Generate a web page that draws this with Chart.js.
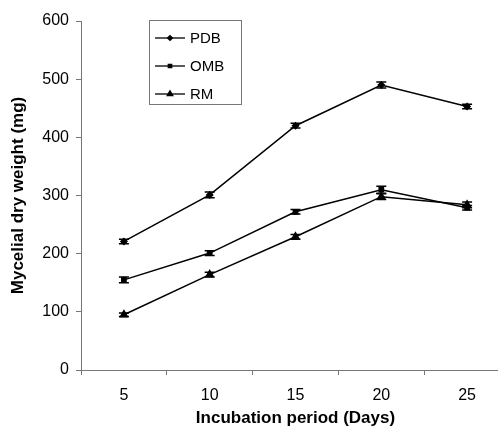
<!DOCTYPE html>
<html>
<head>
<meta charset="utf-8">
<script src="https://cdn.jsdelivr.net/npm/chart.js@4.4.1/dist/chart.umd.min.js"></script>
<style>
  html, body { margin: 0; padding: 0; background: #fff; overflow: hidden; }
  #wrap { width: 520px; height: 436px; position: relative; }
</style>
</head>
<body>
<div id="wrap"><canvas id="growthChart"></canvas></div>
<script>
// incubation days on the x axis
const days = ['5', '10', '15', '20', '25'];

const seriesNames = ['PDB', 'OMB', 'RM'];
const pdb = [221, 301, 420, 490, 453];
const omb = [155, 201, 272, 310, 279];
const rm = [95, 164, 229, 298, 284];

// standard error (mg)
const pdbErr = [4, 5, 4, 5, 4];
const ombErr = [5, 4, 4, 6, 4];
const rmErr = [3, 4, 4, 5, 5];

const yTicks = [0, 100, 200, 300, 400, 500, 600];

const FONT = "'Liberation Sans', Arial, sans-serif";

const errorBars = {
  id: 'errorBars',
  afterDatasetsDraw(chart) {
    const ctx = chart.ctx;
    const y = chart.scales.y;
    ctx.save();
    ctx.strokeStyle = '#000';
    ctx.lineWidth = 1.5;
    chart.data.datasets.forEach((ds, i) => {
      const meta = chart.getDatasetMeta(i);
      meta.data.forEach((pt, j) => {
        const e = ds.errors[j];
        const top = y.getPixelForValue(ds.data[j] + e);
        const bot = y.getPixelForValue(ds.data[j] - e);
        ctx.beginPath();
        ctx.moveTo(pt.x, top); ctx.lineTo(pt.x, bot);
        ctx.moveTo(pt.x - 5, top); ctx.lineTo(pt.x + 5, top);
        ctx.moveTo(pt.x - 5, bot); ctx.lineTo(pt.x + 5, bot);
        ctx.stroke();
      });
    });
    ctx.restore();
  }
};

// boxed legend sitting inside the plot, like the original figure
const boxLegend = {
  id: 'boxLegend',
  afterDraw(chart) {
    const ctx = chart.ctx;
    ctx.save();
    ctx.strokeStyle = '#777';
    ctx.lineWidth = 1;
    ctx.strokeRect(149.5, 20.5, 92, 84);
    ctx.font = '15px ' + FONT;
    ctx.textBaseline = 'middle';
    ctx.fillStyle = '#000';
    chart.data.datasets.forEach((ds, i) => {
      const ly = 38 + i * 28;
      ctx.strokeStyle = '#000';
      ctx.lineWidth = 1.3;
      ctx.beginPath();
      ctx.moveTo(155, ly); ctx.lineTo(185, ly);
      ctx.stroke();
      Chart.helpers.drawPoint(ctx, {
        pointStyle: ds.pointStyle, radius: ds.pointRadius * 0.8, rotation: 0, borderWidth: 1
      }, 170, ly);
      ctx.fillText(ds.label, 190, ly + 1);
    });
    ctx.restore();
  }
};

const ctx = document.getElementById('growthChart').getContext('2d');

const lineStyle = {
  borderColor: '#000',
  backgroundColor: '#000',
  pointBorderColor: '#000',
  pointBackgroundColor: '#000',
  borderWidth: 1.5,
  fill: false,
  tension: 0
};

new Chart(ctx, {
  type: 'line',
  data: {
    labels: days,
    datasets: [
      Object.assign({ label: seriesNames[0], data: pdb, errors: pdbErr, pointStyle: 'rectRot', pointRadius: 3 }, lineStyle),
      Object.assign({ label: seriesNames[1], data: omb, errors: ombErr, pointStyle: 'rect', pointRadius: 3 }, lineStyle),
      Object.assign({ label: seriesNames[2], data: rm, errors: rmErr, pointStyle: 'triangle', pointRadius: 4 }, lineStyle)
    ]
  },
  options: {
    responsive: true,
    maintainAspectRatio: false,
    animation: false,
    layout: { padding: { top: 21, right: 10, left: 8, bottom: 4 } },
    plugins: {
      legend: { display: false },
      tooltip: { enabled: false }
    },
    scales: {
      x: {
        offset: true,
        grid: { offset: true, drawOnChartArea: false, color: '#777', tickLength: 5 },
        border: { color: '#777', width: 1 },
        ticks: { color: '#000', font: { family: FONT, size: 16 }, padding: 11, maxRotation: 0 },
        title: {
          display: true, text: 'Incubation period (Days)', color: '#000',
          font: { family: FONT, size: 17, weight: 'bold' }, padding: { top: 4, bottom: 3 }
        },
        afterFit(scale) { scale.height = 62; }
      },
      y: {
        min: 0, max: 600,
        afterBuildTicks(scale) { scale.ticks = yTicks.map(v => ({ value: v })); },
        grid: { drawOnChartArea: false, color: '#777', tickLength: 5 },
        border: { color: '#777', width: 1 },
        ticks: { color: '#000', font: { family: FONT, size: 16 }, padding: 7 },
        title: {
          display: true, text: 'Mycelial dry weight (mg)', color: '#000',
          font: { family: FONT, size: 17, weight: 'bold' }, padding: { top: 0, bottom: 4 }
        },
        afterFit(scale) { scale.width = 73; }
      }
    }
  },
  plugins: [errorBars, boxLegend]
});
</script>
</body>
</html>
